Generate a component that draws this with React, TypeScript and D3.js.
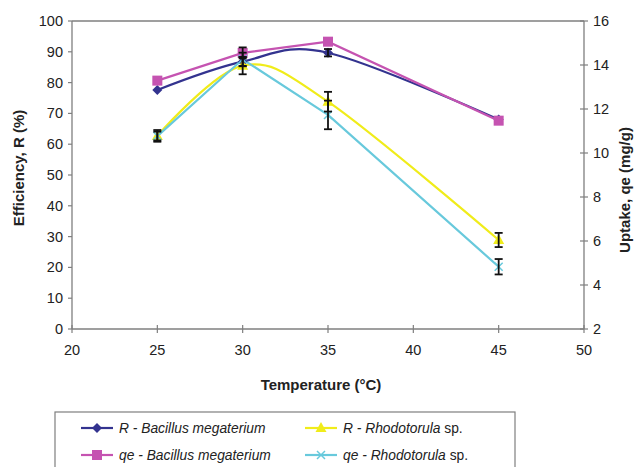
import React from "react";
import * as d3 from "d3";

const temps = [25, 30, 35, 45];
const rBacillus = [77.6, 86.8, 89.7, 68];
const rBacillusErr = [0, 1.5, 1.2, 0];
const qeBacillus = [13.29, 14.55, 15.06, 11.47];
const qeBacillusErr = [0, 0.25, 0, 0];
const rRhodo = [62.7, 85.5, 73.8, 28.9];
const rRhodoErr = [1.9, 2.8, 3.2, 2.3];
const qeRhodo = [10.77, 14.26, 11.73, 4.83];
const qeRhodoErr = [0.2, 0.3, 0.65, 0.35];

const xTicks = [20, 25, 30, 35, 40, 45, 50];
const yLeftTicks = [0, 10, 20, 30, 40, 50, 60, 70, 80, 90, 100];
const yRightTicks = [2, 4, 6, 8, 10, 12, 14, 16];

const FONT = "'Liberation Sans', Arial, sans-serif";
const AXIS = "#7f7f7f";

export default function App() {
  const x = d3.scaleLinear().domain([20, 50]).range([72, 584]);
  const yL = d3.scaleLinear().domain([0, 100]).range([329, 21]);
  const yR = d3.scaleLinear().domain([2, 16]).range([329, 21]);

  const smooth = d3.line<[number, number]>().curve(d3.curveCardinal.tension(0));
  const straight = d3.line<[number, number]>();

  const series = [
    { vals: rBacillus, err: rBacillusErr, y: yL, color: "#33338f", curve: smooth, marker: "diamond" },
    { vals: qeBacillus, err: qeBacillusErr, y: yR, color: "#c553b1", curve: straight, marker: "square" },
    { vals: rRhodo, err: rRhodoErr, y: yL, color: "#f0ec1a", curve: smooth, marker: "triangle" },
    { vals: qeRhodo, err: qeRhodoErr, y: yR, color: "#68c9dc", curve: straight, marker: "x" },
  ];

  const marker = (type: string, cx: number, cy: number, color: string, key: string) => {
    if (type === "diamond")
      return <path key={key} d={`M${cx},${cy - 5}L${cx + 5},${cy}L${cx},${cy + 5}L${cx - 5},${cy}Z`} fill={color} />;
    if (type === "square")
      return <rect key={key} x={cx - 5} y={cy - 5} width={10} height={10} fill={color} />;
    if (type === "triangle")
      return <path key={key} d={`M${cx},${cy - 6}L${cx + 5.5},${cy + 4}L${cx - 5.5},${cy + 4}Z`} fill={color} />;
    return (
      <path key={key} d={`M${cx - 4},${cy - 4}L${cx + 4},${cy + 4}M${cx - 4},${cy + 4}L${cx + 4},${cy - 4}`} stroke={color} strokeWidth={1.5} />
    );
  };

  const legend = [
    { pre: "R", name: "Bacillus megaterium", sp: "", color: "#33338f", marker: "diamond", lx: 81, ly: 428 },
    { pre: "qe", name: "Bacillus megaterium", sp: "", color: "#c553b1", marker: "square", lx: 81, ly: 455 },
    { pre: "R", name: "Rhodotorula", sp: " sp.", color: "#f0ec1a", marker: "triangle", lx: 305, ly: 428 },
    { pre: "qe", name: "Rhodotorula", sp: " sp.", color: "#68c9dc", marker: "x", lx: 305, ly: 455 },
  ];

  return (
    <svg width={637} height={467} style={{ position: "absolute", left: 0, top: 0, background: "#fff" }} fontFamily={FONT}>
      {/* frame */}
      <line x1={72} x2={584} y1={21} y2={21} stroke={AXIS} strokeWidth={1.3} />
      <line x1={72} x2={72} y1={21} y2={329} stroke={AXIS} strokeWidth={1.3} />
      <line x1={584} x2={584} y1={21} y2={329} stroke={AXIS} strokeWidth={1.3} />
      <line x1={72} x2={584} y1={329} y2={329} stroke={AXIS} strokeWidth={1.3} />
      {/* x ticks */}
      {xTicks.map((t) => (
        <g key={"x" + t}>
          <line x1={x(t)} x2={x(t)} y1={325} y2={333} stroke={AXIS} strokeWidth={1.2} />
          <text x={x(t)} y={355} textAnchor="middle" fontSize={14.5} fill="#222">{t}</text>
        </g>
      ))}
      {yLeftTicks.map((t) => (
        <g key={"yl" + t}>
          <line x1={68} x2={72} y1={yL(t)} y2={yL(t)} stroke={AXIS} strokeWidth={1.2} />
          <text x={63} y={yL(t) + 5} textAnchor="end" fontSize={14.5} fill="#222">{t}</text>
        </g>
      ))}
      {yRightTicks.map((t) => (
        <g key={"yr" + t}>
          <line x1={580} x2={588} y1={yR(t)} y2={yR(t)} stroke={AXIS} strokeWidth={1.2} />
          <text x={593} y={yR(t) + 5} textAnchor="start" fontSize={14.5} fill="#222">{t}</text>
        </g>
      ))}
      {/* axis titles */}
      <text x={321} y={390} textAnchor="middle" fontSize={15} fontWeight="bold" fill="#222">Temperature (°C)</text>
      <text transform="translate(24,168) rotate(-90)" textAnchor="middle" fontSize={15} fontWeight="bold" fill="#222">Efficiency, R (%)</text>
      <text transform="translate(630,190) rotate(-90)" textAnchor="middle" fontSize={15} fontWeight="bold" fill="#222">Uptake, qe (mg/g)</text>

      {/* series lines */}
      {series.map((s, i) => (
        <path
          key={"l" + i}
          d={s.curve(temps.map((t, j) => [x(t), s.y(s.vals[j])] as [number, number])) || ""}
          fill="none"
          stroke={s.color}
          strokeWidth={2.2}
        />
      ))}
      {/* markers */}
      {series.map((s, i) => temps.map((t, j) => marker(s.marker, x(t), s.y(s.vals[j]), s.color, `m${i}-${j}`)))}
      {/* error bars */}
      {series.map((s, i) =>
        temps.map((t, j) => {
          if (!s.err[j]) return null;
          const cx = x(t);
          const y1 = s.y(s.vals[j] + s.err[j]);
          const y2 = s.y(s.vals[j] - s.err[j]);
          return (
            <g key={`e${i}-${j}`} stroke="#111" strokeWidth={1.8}>
              <line x1={cx} x2={cx} y1={y1} y2={y2} />
              <line x1={cx - 4} x2={cx + 4} y1={y1} y2={y1} />
              <line x1={cx - 4} x2={cx + 4} y1={y2} y2={y2} />
            </g>
          );
        })
      )}

      {/* legend */}
      <rect x={55} y={412} width={460} height={70} fill="none" stroke={AXIS} strokeWidth={1.2} />
      {legend.map((l, i) => (
        <g key={"lg" + i}>
          <line x1={l.lx} x2={l.lx + 32} y1={l.ly} y2={l.ly} stroke={l.color} strokeWidth={2.2} />
          {marker(l.marker, l.lx + 16, l.ly, l.color, "lm" + i)}
          <text x={l.lx + 38} y={l.ly + 5} fontSize={13.8} fill="#222">
            <tspan fontStyle="italic">{l.pre} - {l.name}</tspan>
            {l.sp && <tspan>{l.sp}</tspan>}
          </text>
        </g>
      ))}
    </svg>
  );
}
